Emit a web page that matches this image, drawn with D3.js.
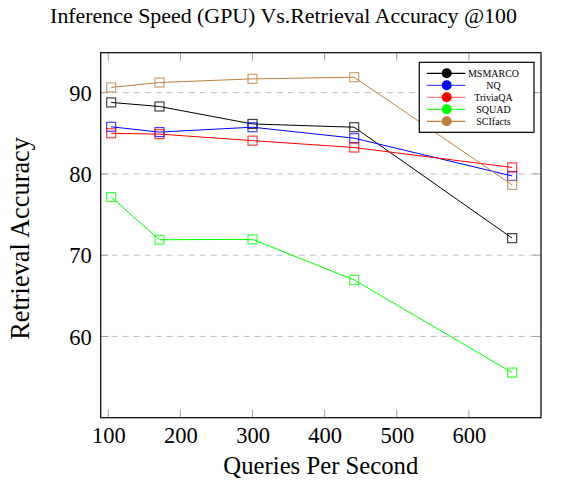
<!DOCTYPE html>
<html>
<head>
<meta charset="utf-8">
<script src="https://cdn.jsdelivr.net/npm/d3@7"></script>
<style>
    body { margin: 0; background: #fff; }
    text { font-family: "Liberation Serif", "Times New Roman", serif; }
</style>
</head>
<body>
<svg id="chart" width="587" height="485"></svg>
<script>
// Queries per second for each point
const queries = [104, 171, 300, 441, 660];

const msmarco = [88.8, 88.3, 86.15, 85.75, 72.1];
const nq = [85.8, 85.15, 85.75, 84.4, 79.75];
const triviaqa = [85.0, 84.9, 84.1, 83.25, 80.8];
const squad = [77.15, 71.9, 71.95, 66.95, 55.55];
const scifacts = [90.65, 91.25, 91.7, 91.9, 78.65];

const seriesNames = ["MSMARCO", "NQ", "TriviaQA", "SQUAD", "SCIfacts"];
const seriesColors = ["#000000", "#0000ff", "#ff0000", "#00ff00", "#bf8040"];
const legendLineColors = ["#000000", "#4d4dff", "#ff8080", "#33ff33", "#bf8040"];

const xTicks = [100, 200, 300, 400, 500, 600];
const yTicks = [60, 70, 80, 90];

let margin = { top: 52.7, right: 46, bottom: 67.3, left: 100.7 };
let width = 587 - margin.left - margin.right;
let height = 485 - margin.top - margin.bottom;

// scale the font so the text gets the width it has in the original
function fitText(sel, target) {
    let w = sel.node().getComputedTextLength();
    let fs = +sel.attr("font-size");
    sel.attr("font-size", fs * target / w);
}

let svg = d3.select("#chart");

let g = svg.append("g")
    .attr("transform", `translate(${margin.left},${margin.top})`);

let x = d3.scaleLinear().domain([89.5, 700]).range([0, width]);
let y = d3.scaleLinear().domain([50, 94.92]).range([height, 0]);

// grid
g.selectAll(".grid")
    .data(yTicks)
    .enter().append("line")
    .attr("x1", 0)
    .attr("x2", width)
    .attr("y1", d => y(d))
    .attr("y2", d => y(d))
    .attr("stroke", "#c0c0c0")
    .attr("stroke-width", 1)
    .attr("stroke-dasharray", "6,5");

// inner ticks, grey
let tickLen = 8;
g.selectAll(".xtb").data(xTicks).enter().append("line")
    .attr("x1", d => x(d)).attr("x2", d => x(d))
    .attr("y1", height).attr("y2", height - tickLen)
    .attr("stroke", "#a0a0a0");
g.selectAll(".xtt").data(xTicks).enter().append("line")
    .attr("x1", d => x(d)).attr("x2", d => x(d))
    .attr("y1", 0).attr("y2", tickLen)
    .attr("stroke", "#a0a0a0");
g.selectAll(".ytl").data(yTicks).enter().append("line")
    .attr("x1", 0).attr("x2", tickLen)
    .attr("y1", d => y(d)).attr("y2", d => y(d))
    .attr("stroke", "#a0a0a0");
g.selectAll(".ytr").data(yTicks).enter().append("line")
    .attr("x1", width - tickLen).attr("x2", width)
    .attr("y1", d => y(d)).attr("y2", d => y(d))
    .attr("stroke", "#a0a0a0");

// tick labels
let xAxis = g.append("g")
    .attr("transform", `translate(0,${height})`)
    .call(d3.axisBottom(x).tickValues(xTicks).tickSize(0));
let yAxis = g.append("g")
    .call(d3.axisLeft(y).tickValues(yTicks).tickSize(0));
[xAxis, yAxis].forEach(a => {
    a.select(".domain").remove();
    a.selectAll("text")
        .attr("font-family", "Liberation Serif")
        .attr("font-size", 22.5)
        .attr("fill", "#000");
});
xAxis.selectAll("text").attr("y", 25.6).attr("dy", 0);
yAxis.selectAll("text").attr("x", -9).attr("dy", "0.34em");

// lines + square markers
let line = d3.line()
    .x((d, i) => x(queries[i]))
    .y(d => y(d));

let allSeries = [msmarco, nq, triviaqa, squad, scifacts];

allSeries.forEach((values, k) => {
    g.append("path")
        .datum(values)
        .attr("fill", "none")
        .attr("stroke", seriesColors[k])
        .attr("stroke-width", 1)
        .attr("d", line);
});
allSeries.forEach((values, k) => {
    g.selectAll(".m" + k)
        .data(values)
        .enter().append("rect")
        .attr("x", (d, i) => x(queries[i]) - 4.5)
        .attr("y", d => y(d) - 4.5)
        .attr("width", 9)
        .attr("height", 9)
        .attr("fill", "none")
        .attr("stroke", seriesColors[k])
        .attr("stroke-opacity", 0.75)
        .attr("stroke-width", 1.2);
});

// frame
g.append("rect")
    .attr("width", width)
    .attr("height", height)
    .attr("fill", "none")
    .attr("stroke", "#000")
    .attr("stroke-width", 1.2);

// legend
let legend = g.append("g")
    .attr("transform", `translate(${419.3 - margin.left},${62.3 - margin.top})`);
legend.append("rect")
    .attr("width", 114.7)
    .attr("height", 70)
    .attr("fill", "#fff")
    .attr("stroke", "#000")
    .attr("stroke-width", 1.2);
seriesNames.forEach((name, i) => {
    let ly = 11 + i * 12;
    legend.append("line")
        .attr("x1", 7.5).attr("x2", 46)
        .attr("y1", ly).attr("y2", ly)
        .attr("stroke", legendLineColors[i])
        .attr("stroke-width", 1.2);
    legend.append("circle")
        .attr("cx", 27.4).attr("cy", ly)
        .attr("r", 5)
        .attr("fill", seriesColors[i]);
    legend.append("text")
        .attr("x", 74.2).attr("y", ly + 3.5)
        .attr("text-anchor", "middle")
        .attr("font-size", 10)
        .text(name);
});

// titles
let title = svg.append("text")
    .attr("x", 283.5).attr("y", 23)
    .attr("text-anchor", "middle")
    .attr("font-size", 20)
    .text("Inference Speed (GPU) Vs.Retrieval Accuracy @100");
fitText(title, 467);

let xLabel = svg.append("text")
    .attr("x", margin.left + width / 2).attr("y", 473.5)
    .attr("text-anchor", "middle")
    .attr("font-size", 20)
    .text("Queries Per Second");
fitText(xLabel, 195);

let yLabel = svg.append("text")
    .attr("transform", "translate(28.5,238.4) rotate(-90)")
    .attr("text-anchor", "middle")
    .attr("font-size", 20)
    .text("Retrieval Accuracy");
fitText(yLabel, 203);
</script>
</body>
</html>
